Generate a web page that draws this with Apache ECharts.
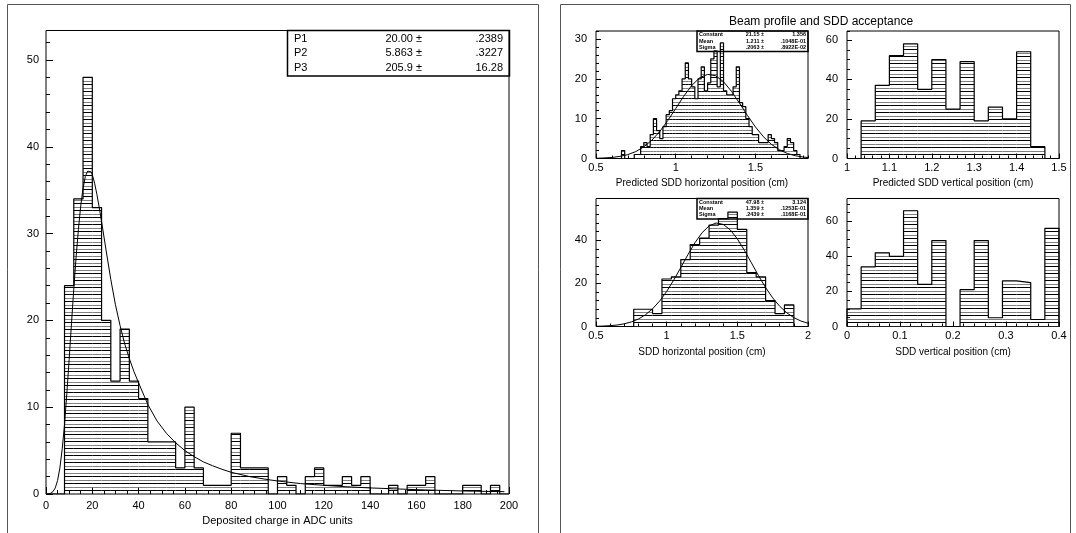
<!DOCTYPE html>
<html><head><meta charset="utf-8">
<script src="https://cdn.jsdelivr.net/npm/echarts@6/dist/echarts.min.js"></script>
<style>html,body{margin:0;padding:0;background:#fff}#c{width:1076px;height:533px}</style>
</head><body><div id="c"></div><script>
// ---------- DATA ----------
// Left: deposited charge histogram (bin width 4 ADC)
const adcBinWidth = 4;
const adcBinLow = [0,4,8,12,16,20,24,28,32,36,40,44,48,52,56,60,64,68,72,76,80,84,88,92,96,100,104,108,112,116,120,124,128,132,136,140,144,148,152,156,160,164,168,172,176,180,184,188,192,196];
const adcCounts = [0,0,24,34,48,33,20,13,19,13,11,6,6,6,3,10,3,1,1,1,7,3,3,3,0,2,1,0,2,3,1,1,2,1,2,0,0,1,0,1,1,2,0,0,0,1,1,0,1,0];
// Landau fit curve
const adcFitX = [0,1,2,3,4,5,6,7,8,9,10,11,12,13,14,15,16,17,18,18.7,19.5,20,21,22,23,24,26,28,30,32,34,36,38,40,44,48,52,56,60,64,68,72,76,80,88,96,100,110,120,130,140,150,160,170,180,190,198];
const adcFitY = [0,0.02,0.08,0.27,0.7,1.55,3.0,5.2,8.0,11.6,15.5,19.6,23.6,27.3,30.5,33.2,35.2,36.6,37.2,37.3,37.1,36.8,35.8,34.5,33.0,31.4,28.0,24.7,21.8,19.4,17.3,15.6,14.1,12.8,10.3,8.4,7.0,5.9,5.0,4.3,3.7,3.25,2.85,2.5,2.0,1.65,1.5,1.2,1.0,0.83,0.7,0.6,0.5,0.42,0.35,0.3,0.27];
const adcStats = [["P1","20.00 \u00b1",".2389"],["P2","5.863 \u00b1",".3227"],["P3","205.9 \u00b1","16.28"]];

// Top-left: predicted SDD horizontal position (bin width 0.02)
const phBinWidth = 0.02;
const phBinLow = [0.64,0.66,0.68,0.70,0.72,0.74,0.76,0.78,0.80,0.82,0.84,0.86,0.88,0.90,0.92,0.94,0.96,0.98,1.00,1.02,1.04,1.06,1.08,1.10,1.12,1.14,1.16,1.18,1.20,1.22,1.24,1.26,1.28,1.30,1.32,1.34,1.36,1.38,1.40,1.42,1.44,1.46,1.48,1.50,1.52,1.54,1.56,1.58,1.60,1.62,1.64,1.66,1.68,1.70,1.72,1.74,1.76,1.78];
const phCounts = [0,2,0,0,0,1,1,3,4,3,6,10,7,5,8,11,12,15,16,17,20,24,20,18,15,20,23,17,19,25,27,18,29,17,16,16,18,23,14,13,10,8,6,6,4,4,4,6,5,4,2,2,3,5,4,2,1,0];
const phFitX = [0.50,0.55,0.60,0.65,0.70,0.75,0.80,0.85,0.90,0.95,1.00,1.05,1.10,1.15,1.20,1.25,1.30,1.35,1.40,1.45,1.50,1.55,1.60,1.65,1.70,1.75,1.80,1.83];
const phFitY = [0.06,0.13,0.26,0.53,0.98,1.74,2.91,4.58,6.78,9.50,12.53,15.60,18.30,20.25,21.12,20.78,19.27,16.86,13.90,10.81,7.93,5.48,3.57,2.20,1.27,0.70,0.36,0.24];
const phStats = [["Constant","21.15 \u00b1","1.356"],["Mean","1.211 \u00b1",".1048E-01"],["Sigma",".2063 \u00b1",".8922E-02"]];

// Top-right: predicted SDD vertical position (bin width 1/30)
const pvBinWidth = 1/30;
const pvBinLow = [1.0,1.0333,1.0667,1.1,1.1333,1.1667,1.2,1.2333,1.2667,1.3,1.3333,1.3667,1.4,1.4333,1.4667];
const pvCounts = [0,19,37,52,58,35,50,25,49,19,26,20,54,6,0];

// Bottom-left: SDD horizontal position (bin width 1/15)
const shBinWidth = 1/15;
const shBinLow = [0.7,0.7667,0.8333,0.9,0.9667,1.0333,1.1,1.1667,1.2333,1.3,1.3667,1.4333,1.5,1.5667,1.6333,1.7,1.7667,1.8333,1.9];
const shCounts = [0,8,8,6,22,23,31,38,41,47,50,53,45,25,23,12,6,10,0];
const shFitX = [0.50,0.55,0.60,0.65,0.70,0.75,0.80,0.85,0.90,0.95,1.00,1.05,1.10,1.15,1.20,1.25,1.30,1.35,1.40,1.45,1.50,1.55,1.60,1.65,1.70,1.75,1.80,1.85,1.90,1.95,2.00];
const shFitY = [0.10,0.20,0.38,0.70,1.25,2.12,3.47,5.44,8.17,11.76,16.24,21.50,27.30,33.24,38.80,43.42,46.59,47.95,47.31,44.76,40.60,35.31,29.45,23.54,18.05,13.27,9.36,6.32,4.10,2.54,1.52];
const shStats = [["Constant","47.98 \u00b1","3.124"],["Mean","1.359 \u00b1",".1253E-01"],["Sigma",".2439 \u00b1",".1168E-01"]];

// Bottom-right: SDD vertical position (bin width 0.4/15)
const svBinWidth = 0.4/15;
const svBinLow = [0,0.02667,0.05333,0.08,0.10667,0.13333,0.16,0.18667,0.21333,0.24,0.26667,0.29333,0.32,0.34667,0.37333];
const svCounts = [10,34,42,40,66,24,49,0,21,49,5,26,25,4,56];

const titleRight = "Beam profile and SDD acceptance";
const xNames = ["Deposited charge in ADC units","Predicted SDD horizontal position (cm)","Predicted SDD vertical position (cm)","SDD horizontal position (cm)","SDD vertical position (cm)"];

// ---------- RENDER ----------
const FONT = "'Liberation Sans', Arial, Helvetica, sans-serif";
const hatch = (function(){const c=document.createElement('canvas');c.width=4;c.height=7;const g=c.getContext('2d');
  g.fillStyle='#000';g.fillRect(0,0,4,1);g.fillStyle='#808080';g.fillRect(0,4,4,1);return c;})();
const hatchFill = {image: hatch, repeat: 'repeat'};

const grids = [
  {left:46, top:30.5, width:463, height:463.5},
  {left:596, top:31, width:212, height:127.5},
  {left:847, top:31, width:212, height:127.5},
  {left:596, top:198.5, width:212, height:128},
  {left:847, top:198.5, width:212, height:128}
].map(g=>Object.assign({show:true,borderColor:'#000',borderWidth:1,backgroundColor:'rgba(0,0,0,0)',containLabel:false,outerBoundsMode:'none'},g));

// per grid: [xmin,xmax,xMajor,xMinor,ymin,ymax,yMajor,yMinor, labelSize, nameSize, nameGap, yMargin, showMaxX, xMargin]
const axCfg = [
  [0,200,20,5, 0,53.4,10,2, 11,11,10,7,true,6],
  [0.5,1.83,0.5,0.1, 0,32,10,2, 11,10,9,9,false,4],
  [1,1.5,0.1,0.02, 0,64.5,20,5, 11,10,9,9,true,4],
  [0.5,2,0.5,0.1, 0,59.3,20,4, 11,10,10,9,true,4],
  [0,0.4,0.1,0.02, 0,73,20,5, 11,10,10,9,true,4]
];
const xAxis=[], yAxis=[];
axCfg.forEach((c,gi)=>{
  const [x0,x1,xM,xm,y0,y1,yM,ym,ls,ns,ng,ymg,showMaxX,xmg]=c;
  xAxis.push({type:'value',gridIndex:gi,position:'bottom',min:x0,max:x1,interval:xM,
    axisLine:{show:false},axisTick:{show:true,inside:true,length:gi===0?7:5,lineStyle:{color:'#000',width:1}},
    axisLabel:{show:true,color:'#000',fontSize:ls,fontFamily:FONT,margin:xmg,showMaxLabel:showMaxX,showMinLabel:true},
    splitLine:{show:false},name:xNames[gi],nameLocation:'middle',nameGap:ls+ng,
    nameTextStyle:{color:'#000',fontSize:ns,fontFamily:FONT}});
  xAxis.push({type:'value',gridIndex:gi,position:'bottom',min:x0,max:x1,interval:xm,
    axisLine:{show:false},axisTick:{show:true,inside:true,length:gi===0?4:3,lineStyle:{color:'#000',width:1}},
    axisLabel:{show:false},splitLine:{show:false}});
  yAxis.push({type:'value',gridIndex:gi,position:'left',min:y0,max:y1,interval:yM,
    axisLine:{show:false},axisTick:{show:true,inside:true,length:gi===0?7:5,lineStyle:{color:'#000',width:1}},
    axisLabel:{show:true,color:'#000',fontSize:ls,fontFamily:FONT,margin:ymg,showMaxLabel:false},
    splitLine:{show:false}});
  yAxis.push({type:'value',gridIndex:gi,position:'left',min:y0,max:y1,interval:ym,
    axisLine:{show:false},axisTick:{show:true,inside:true,length:gi===0?4:3,lineStyle:{color:'#000',width:1}},
    axisLabel:{show:false},splitLine:{show:false}});
});

function histFill(gi, lows, w, counts){
  return {type:'custom',xAxisIndex:gi*2,yAxisIndex:gi*2,silent:true,animation:false,clip:true,z:2,
    data: lows.map((l,i)=>[l,l+w,counts[i]]),
    encode:{x:[0,1],y:2},
    renderItem:(p,api)=>{
      const a=api.coord([api.value(0),api.value(2)]);
      const b=api.coord([api.value(1),0]);
      return {type:'rect',shape:{x:a[0],y:a[1],width:b[0]-a[0],height:b[1]-a[1]},style:{fill:hatchFill,stroke:null}};
    }};
}
function histLine(gi, lows, w, counts){
  const d=[[lows[0],0]];
  lows.forEach((l,i)=>d.push([l,counts[i]]));
  const last=lows[lows.length-1]+w;
  d.push([last,counts[counts.length-1]]);
  d.push([last,0]);
  return {type:'line',xAxisIndex:gi*2,yAxisIndex:gi*2,step:'end',data:d,symbol:'none',silent:true,animation:false,z:3,
    lineStyle:{color:'#000',width:1.2}};
}
function fitLine(gi, xs, ys){
  return {type:'line',xAxisIndex:gi*2,yAxisIndex:gi*2,data:xs.map((x,i)=>[x,ys[i]]),symbol:'none',silent:true,animation:false,z:4,
    lineStyle:{color:'#000',width:1},clip:true};
}
const series=[
  histFill(0,adcBinLow,adcBinWidth,adcCounts), histLine(0,adcBinLow,adcBinWidth,adcCounts), fitLine(0,adcFitX,adcFitY),
  histFill(1,phBinLow,phBinWidth,phCounts), histLine(1,phBinLow,phBinWidth,phCounts), fitLine(1,phFitX,phFitY),
  histFill(2,pvBinLow,pvBinWidth,pvCounts), histLine(2,pvBinLow,pvBinWidth,pvCounts),
  histFill(3,shBinLow,shBinWidth,shCounts), histLine(3,shBinLow,shBinWidth,shCounts), fitLine(3,shFitX,shFitY),
  histFill(4,svBinLow,svBinWidth,svCounts), histLine(4,svBinLow,svBinWidth,svCounts)
];

function txt(t,x,y,font,align){return {type:'text',silent:true,z:100,style:{text:t,x:x,y:y,font:font,fill:'#000',textAlign:align||'left',textVerticalAlign:'middle'}};}
const graphic=[
  {type:'rect',silent:true,z:0,shape:{x:7.5,y:4.5,width:531,height:540},style:{fill:null,stroke:'#555',lineWidth:1}},
  {type:'rect',silent:true,z:0,shape:{x:560.5,y:4.5,width:510,height:540},style:{fill:null,stroke:'#555',lineWidth:1}},
  txt(titleRight,821,22,"12px "+FONT,'center'),
  {type:'rect',silent:true,z:90,shape:{x:287.5,y:30.5,width:222,height:45.5},style:{fill:null,stroke:'#000',lineWidth:1.5}}
];
adcStats.forEach((r,i)=>{const y=38.5+i*14.5;
  graphic.push(txt(r[0],294,y,"11px "+FONT,'left'));
  graphic.push(txt(r[1],422,y,"11px "+FONT,'right'));
  graphic.push(txt(r[2],503,y,"11px "+FONT,'right'));});
[[phStats,31],[shStats,198.5]].forEach(([st,top])=>{
  graphic.push({type:'rect',silent:true,z:90,shape:{x:697,y:top,width:111,height:20.5},style:{fill:null,stroke:'#000',lineWidth:1.5}});
  st.forEach((r,i)=>{const y=top+3.8+i*6.2;
    graphic.push(txt(r[0],699,y,"bold 5.5px "+FONT,'left'));
    graphic.push(txt(r[1],764,y,"bold 5.5px "+FONT,'right'));
    graphic.push(txt(r[2],806,y,"bold 5.5px "+FONT,'right'));});
});

const chart=echarts.init(document.getElementById('c'),null,{renderer:'canvas'});
chart.setOption({animation:false,backgroundColor:'#fff',grid:grids,xAxis:xAxis,yAxis:yAxis,series:series,graphic:graphic});
</script></body></html>
